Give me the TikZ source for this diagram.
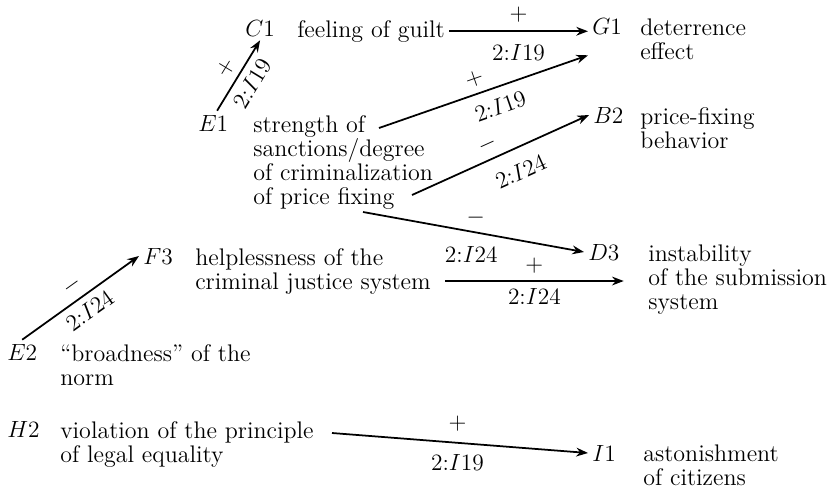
\documentclass[tikz,border=0pt]{standalone}
\usepackage{amsmath}
\usetikzlibrary{arrows.meta, calc}

\begin{document}
\begin{tikzpicture}[
	x=0.018cm, y=-0.018cm,
	font=\fontsize{12.3pt}{12.4pt}\selectfont,
	>={Stealth[length=6pt, width=4.5pt]},
	% Define styles for the variables
	code/.style={
		anchor=base west,
		inner sep=2pt
	},
	desc/.style={
		anchor=north west,
		align=left,
		inner xsep=2pt,
		inner ysep=1pt
	},
	link/.style={
		->,
		line width=0.9pt
	}
	]
	\useasboundingbox (0,0) rectangle (835,487);
	
	% --- 1. GUILT / DETERRENCE ---
	\node[code] (C1) at (241,36) {$C1$};
	\node[desc] (guilt) at (293,18) {feeling of guilt};
	\node[code] (G1) at (588,34) {$G1$};
	\node[desc] (deterrence) at (636,16) {deterrence\\effect};
	
	% --- 2. SANCTIONS ---
	\node[code] (E1) at (194,131) {$E1$};
	\node[desc] (strength) at (249,113) {strength of\\sanctions/degree\\of criminalization\\of price fixing};
	\node[code] (B2) at (589,123) {$B2$};
	\node[desc] (pricefix) at (636,105) {price-fixing\\behavior};
	
	% --- 3. CRIMINAL JUSTICE SYSTEM ---
	\node[code] (F3) at (139,264) {$F3$};
	\node[desc] (helpless) at (191,246) {helplessness of the\\criminal justice system};
	\node[code] (D3) at (584,260) {$D3$};
	\node[desc] (instab) at (644,242) {instability\\of the submission\\system};
	\node[code] (E2) at (3,360) {$E2$};
	\node[desc] (broad) at (56,342) {``broadness'' of the\\norm};
	
	% --- 4. LEGAL EQUALITY ---
	\node[code] (H2) at (3,437) {$H2$};
	\node[desc] (violation) at (56,419) {violation of the principle\\of legal equality};
	\node[code] (I1) at (588,461) {$I1$};
	\node[desc] (astonish) at (639,442) {astonishment\\of citizens};
	
	% Arrows
	\draw[link] (guilt.east) -- (guilt.east -| G1.west)
		node[midway, above=1pt] {$+$}
		node[midway, below=3pt] {$2{:}I19$};
	\draw[link] ([xshift=2pt]E1.north) -- (C1.south)
		node[midway, above, sloped] {$+$}
		node[midway, below, sloped] {$2{:}I19$};
	\draw[link] ($(strength.north west)+(130,15)$) -- ($(G1.south west)+(0,17)$)
		node[pos=0.48, above, sloped] {$+$}
		node[pos=0.55, below=2pt, sloped] {$2{:}I19$};
	\draw[link] ($(strength.north west)+(163,82)$) -- (B2.west)
		node[pos=0.46, above, sloped] {$-$}
		node[pos=0.56, below=4pt, sloped] {$2{:}I24$};
	\draw[link] ($(strength.north west)+(114,99)$) -- (D3.west)
		node[pos=0.51, above] {$-$}
		node[pos=0.49, below=4pt] {$2{:}I24$};
	\draw[link] ($(helpless.north west)+(254,35)$) coordinate (hs) -- (hs -| D3.east)
		node[midway, above] {$+$}
		node[midway, below] {$2{:}I24$};
	\draw[link] (E2.north) -- (F3.west)
		node[midway, above, sloped] {$-$}
		node[midway, below, sloped] {$2{:}I24$};
	\draw[link] ($(violation.north west)+(276,14)$) -- (I1.west)
		node[pos=0.49, above=2pt] {$+$}
		node[pos=0.49, below=2pt] {$2{:}I19$};
	
\end{tikzpicture}
\end{document}
